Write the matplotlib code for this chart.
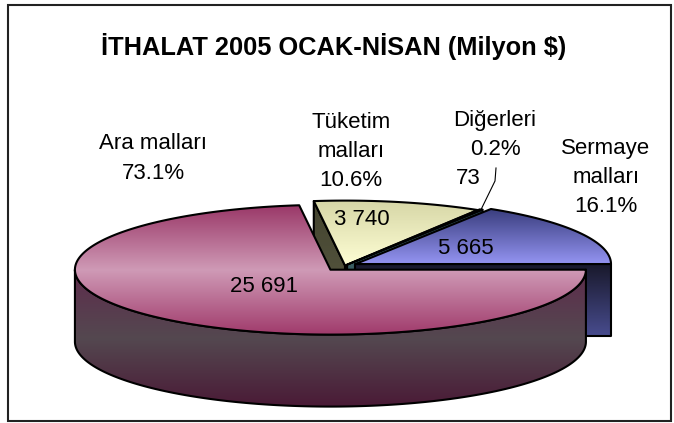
"""3D-looking exploded pie of the 2005 Jan-Apr import breakdown, drawn with patches."""
import numpy as np
import matplotlib.pyplot as plt
from matplotlib.patches import Polygon, Rectangle
from matplotlib.colors import LinearSegmentedColormap

plt.rcParams['font.family'] = ['Liberation Sans', 'DejaVu Sans']

# Chart data
title = 'İTHALAT 2005 OCAK-NİSAN (Milyon $)'
categories = ['Ara malları', 'Tüketim\nmalları', 'Diğerleri', 'Sermaye\nmalları']
values = [25691, 3740, 73, 5665]

# Layout in pixels (axes maps 1 unit = 1 pixel, y downwards)
W, H = 674, 423
CX, CY = 345.0, 265.5
RAD = 255.5
TILT = 0.254
DEPTH = 72
explode = [22, 0, 4, 12]
topColors = [['#9a3868', '#cf9ab6', '#a03a6b'],
             ['#d6d6a6', '#fefed4'],
             ['#78b0b8', '#a8d8dc'],
             ['#383c7c', '#9494f2']]
sideColors = [['#5e2c4c', '#544850', '#4a1a36'],
              ['#44442f', '#5c5c46'],
              ['#2c4c50', '#4c7478'],
              ['#18182a', '#484c8e']]
# baselines of each label line, and centre x
namePos = [(153, [149, 179]), (351, [128, 157, 186]), (495, [126, 155]), (606, [154, 183, 212])]
valuePos = [(264, 292), (362, 225), (468, 184), (466, 254)]
leaderKnots = [(496, 168), (495, 181)]
FONT = 16


def project(theta, r, z, e, mid):
    """Screen position of a point at angle theta (deg), radius r, depth z for a slice exploded by e along mid."""
    t, m = np.radians(theta), np.radians(mid)
    x = CX + e * np.cos(m) + r * np.cos(t)
    y = CY - TILT * (e * np.sin(m) + r * np.sin(t)) + z
    return np.column_stack([np.atleast_1d(x), np.atleast_1d(y)])


def gradFill(ax, verts, stops, zorder, lw=1.5):
    """Fill a polygon with a vertical colour gradient and draw its black outline."""
    poly = Polygon(verts, closed=True, facecolor='none', edgecolor='black', lw=lw, joinstyle='round', zorder=zorder + 0.5)
    ax.add_patch(poly)
    cmap = LinearSegmentedColormap.from_list('g', stops)
    grad = np.linspace(0, 1, 256).reshape(-1, 1)
    im = ax.imshow(grad, cmap=cmap, aspect='auto', interpolation='bilinear', zorder=zorder,
                   extent=(verts[:, 0].min(), verts[:, 0].max(), verts[:, 1].max(), verts[:, 1].min()))
    im.set_clip_path(poly)


fig = plt.figure(figsize=(W / 100, H / 100), dpi=100)
ax = fig.add_axes([0, 0, 1, 1])
ax.axis('off')

total = sum(values)
spans = [360 * v / total for v in values]
# slices go clockwise starting at 3 o'clock
slices = []
t = 0.0
for i, s in enumerate(spans):
    slices.append((t - s, t, t - s / 2))
    t -= s

# Side faces, back slices first; every face gets its own layer
layer = 1
order = sorted(range(len(values)), key=lambda i: -np.sin(np.radians(slices[i][2])))
for i in order:
    lo, hi, mid = slices[i]
    e = explode[i]
    # radial cut faces
    for phi, visible in ((lo, np.cos(np.radians(lo)) > 0), (hi, np.cos(np.radians(hi)) < 0)):
        if visible:
            face = np.vstack([project(phi, 0, 0, e, mid), project(phi, RAD, 0, e, mid),
                              project(phi, RAD, DEPTH, e, mid), project(phi, 0, DEPTH, e, mid)])
            gradFill(ax, face, sideColors[i], layer)
            layer += 1
    # outer wall, only the part facing the viewer
    for k in (-1, 0, 1):
        a, b = max(lo, -180 + 360 * k), min(hi, 360 * k)
        if a < b:
            th = np.linspace(a, b, 200)
            wall = np.vstack([project(th, RAD, 0, e, mid), project(th[::-1], RAD, DEPTH, e, mid)])
            gradFill(ax, wall, sideColors[i], layer)
            layer += 1

# Top faces
for i, (lo, hi, mid) in enumerate(slices):
    th = np.linspace(lo, hi, 300)
    top = np.vstack([project(mid, 0, 0, explode[i], mid), project(th, RAD, 0, explode[i], mid)])
    gradFill(ax, top, topColors[i], layer, lw=1.2 if values[i] < 500 else 1.5)
    layer += 1

# Labels
for i, name in enumerate(categories):
    lines = name.split('\n') + [f'{100 * values[i] / total:.1f}%']
    x, ys = namePos[i]
    for line, y in zip(lines, ys):
        ax.text(x, y, line, ha='center', va='baseline', fontsize=FONT, zorder=layer)
    vx, vy = valuePos[i]
    ax.text(vx, vy, f'{values[i]:,}'.replace(',', ' '), ha='center', va='baseline', fontsize=FONT, zorder=layer)

# leader line for the tiny slice
small = int(np.argmin(values))
rim = project(slices[small][2], RAD, 0, explode[small], slices[small][2])[0]
lx = [p[0] for p in leaderKnots] + [rim[0]]
ly = [p[1] for p in leaderKnots] + [rim[1]]
ax.plot(lx, ly, color='black', lw=0.8, zorder=layer)

ax.text(334, 55.5, title, ha='center', va='baseline', fontsize=18.3, fontweight='bold', zorder=layer)
ax.add_patch(Rectangle((8, 5), 663, 416, facecolor='none', edgecolor='#222222', lw=1.5, zorder=layer + 1))

ax.set_xlim(0, W)
ax.set_ylim(H, 0)
fig.savefig('out.png', dpi=100)
